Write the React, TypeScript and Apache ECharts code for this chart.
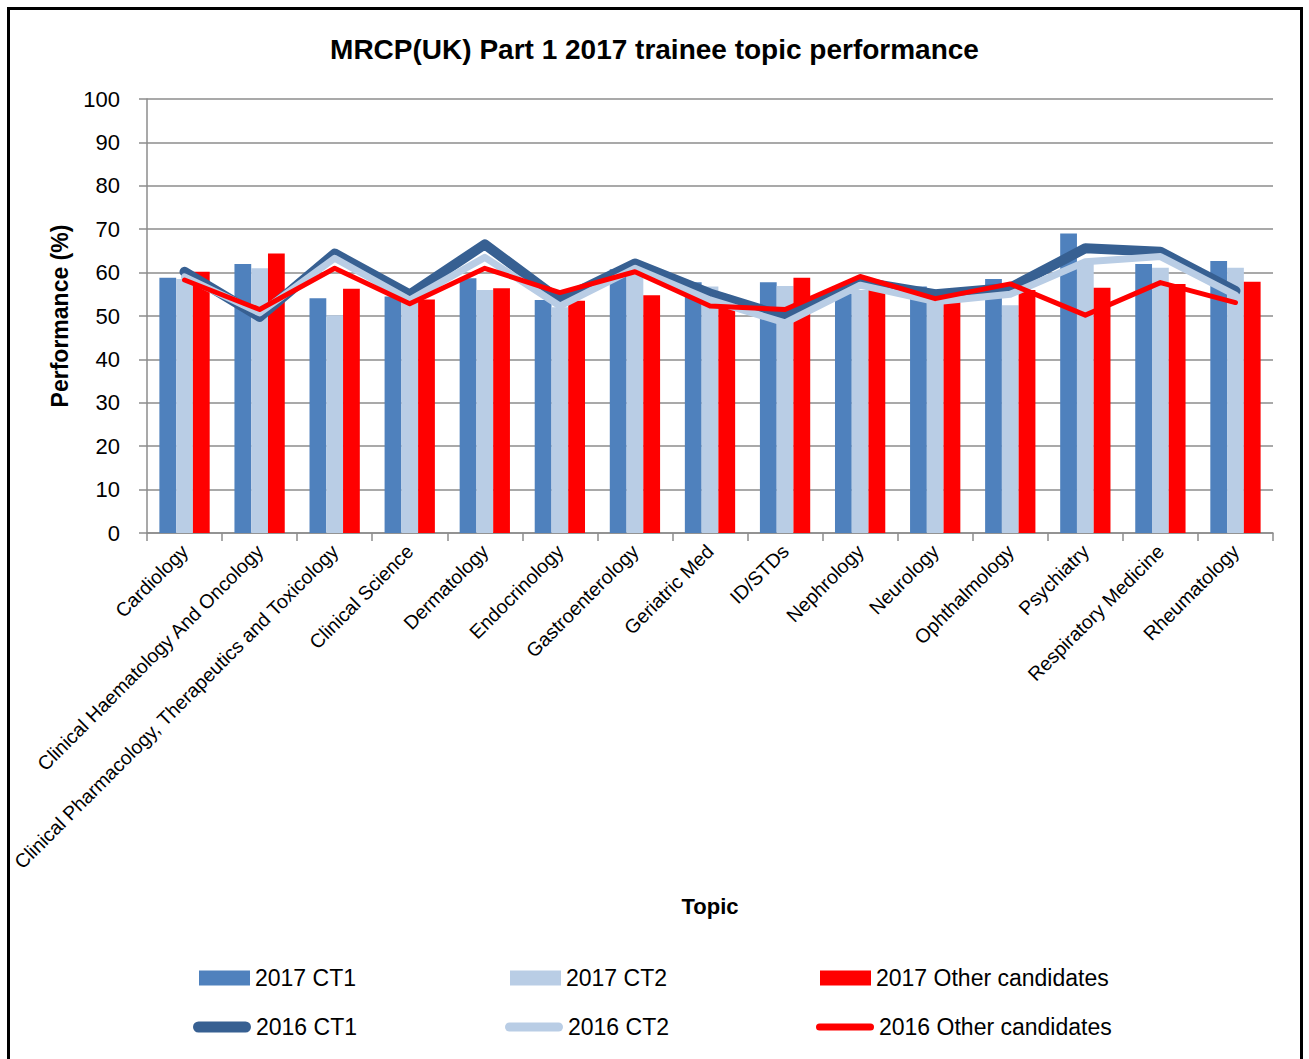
import React, { useEffect, useRef } from "react";
import * as echarts from "echarts";

const categories = [
  "Cardiology",
  "Clinical Haematology And Oncology",
  "Clinical Pharmacology, Therapeutics and Toxicology",
  "Clinical Science",
  "Dermatology",
  "Endocrinology",
  "Gastroenterology",
  "Geriatric Med",
  "ID/STDs",
  "Nephrology",
  "Neurology",
  "Ophthalmology",
  "Psychiatry",
  "Respiratory Medicine",
  "Rheumatology",
];

const ct1_2017 = [58.8, 62.0, 54.1, 54.5, 58.7, 53.7, 60.8, 57.8, 57.8, 55.2, 56.8, 58.5, 69.0, 62.0, 62.7];
const ct2_2017 = [58.5, 61.0, 50.2, 54.0, 56.0, 52.0, 60.5, 56.8, 56.9, 56.0, 53.0, 52.5, 62.0, 61.1, 61.1];
const other_2017 = [60.2, 64.4, 56.3, 53.8, 56.4, 53.5, 54.8, 52.1, 58.8, 56.0, 56.2, 56.0, 56.5, 57.4, 57.9];
const ct1_2016 = [60.2, 49.8, 64.4, 55.0, 66.5, 53.7, 62.1, 55.2, 49.8, 57.9, 55.0, 56.5, 65.6, 64.8, 55.8];
const ct2_2016 = [59.0, 50.7, 63.3, 53.7, 63.5, 52.3, 61.0, 53.7, 48.4, 57.1, 53.3, 55.0, 62.5, 63.7, 54.8];
const other_2016 = [58.3, 51.5, 61.0, 52.8, 61.0, 55.4, 60.2, 52.3, 51.5, 59.1, 54.0, 57.4, 50.2, 57.7, 53.1];

const yTicks = { min: 0, max: 100, interval: 10 };

const FONT = "'Liberation Sans', Arial, sans-serif";
const C_CT1 = "#4F81BD";
const C_CT2 = "#B9CDE5";
const C_RED = "#FF0000";
const C_CT1_LINE = "#376092";
const GRID = "#8c8c8c";

const PILL_W = 58;
function pill(h: number) {
  const r = h / 2;
  return `path://M${r},0 L${PILL_W - r},0 A${r},${r} 0 0 1 ${PILL_W - r},${h} L${r},${h} A${r},${r} 0 0 1 ${r},0 Z`;
}

export default function App() {
  const ref = useRef<HTMLDivElement>(null);
  useEffect(() => {
    if (!ref.current) return;
    const chart = echarts.init(ref.current, null, { renderer: "svg" });
    const legendText = { fontSize: 23, color: "#000", fontFamily: FONT, lineHeight: 24 };
    const mkLegend = (name: string, left: number, top: number, icon: string, w: number, h: number) => ({
      show: true,
      data: [{ name, icon }],
      left,
      top,
      padding: 0,
      itemWidth: w,
      itemHeight: h,
      itemGap: 0,
      selectedMode: false,
      itemStyle: { borderWidth: 0 },
      textStyle: legendText,
    });
    chart.setOption({
      animation: false,
      backgroundColor: "#fff",
      title: {
        text: "MRCP(UK) Part 1 2017 trainee topic performance",
        left: "center",
        top: 30,
        textStyle: { fontSize: 28, fontWeight: "bold", color: "#000", fontFamily: FONT },
      },
      graphic: [
        {
          type: "rect",
          silent: true,
          shape: { x: 8.5, y: 8.5, width: 1293, height: 1100 },
          style: { fill: "none", stroke: "#000", lineWidth: 3 },
        },
      ],
      legend: [
        mkLegend("2017 CT1", 199, 966, "rect", 51, 15),
        mkLegend("2017 CT2", 510, 966, "rect", 51, 15),
        mkLegend("2017 Other candidates", 820, 966, "rect", 51, 15),
        mkLegend("2016 CT1", 193, 1015, pill(11), PILL_W, 11),
        mkLegend("2016 CT2", 505, 1015, pill(9), PILL_W, 9),
        mkLegend("2016 Other candidates", 816, 1015, pill(7), PILL_W, 7),
      ],
      grid: { left: 147, right: 36, top: 99, bottom: 526, containLabel: false },
      xAxis: {
        type: "category",
        data: categories,
        name: "Topic",
        nameLocation: "middle",
        nameGap: 362,
        nameTextStyle: { fontSize: 22, fontWeight: "bold", color: "#000", fontFamily: FONT },
        axisLine: { show: true, lineStyle: { color: GRID, width: 1.5 } },
        axisTick: { show: true, length: 8, interval: 0, lineStyle: { color: GRID, width: 1.5 } },
        axisLabel: {
          interval: 0,
          rotate: 45,
          margin: 15,
          fontSize: 19.5,
          color: "#000",
          fontFamily: FONT,
        },
      },
      yAxis: {
        type: "value",
        min: yTicks.min,
        max: yTicks.max,
        interval: yTicks.interval,
        name: "Performance (%)",
        nameLocation: "middle",
        nameRotate: 90,
        nameGap: 76,
        nameTextStyle: { fontSize: 23, fontWeight: "bold", color: "#000", fontFamily: FONT },
        axisLine: { show: true, lineStyle: { color: GRID, width: 1.5 } },
        axisTick: { show: true, length: 8, lineStyle: { color: GRID, width: 1.5 } },
        axisLabel: { margin: 27, fontSize: 22, color: "#000", fontFamily: FONT },
        splitLine: { show: true, lineStyle: { color: GRID, width: 1.5 } },
      },
      series: [
        {
          name: "2017 CT1",
          type: "bar",
          data: ct1_2017,
          barGap: "0%",
          barCategoryGap: "33%",
          itemStyle: { color: C_CT1 },
        },
        {
          name: "2017 CT2",
          type: "bar",
          data: ct2_2017,
          barGap: "0%",
          barCategoryGap: "33%",
          itemStyle: { color: C_CT2 },
        },
        {
          name: "2017 Other candidates",
          type: "bar",
          data: other_2017,
          barGap: "0%",
          barCategoryGap: "33%",
          itemStyle: { color: C_RED },
        },
        {
          name: "2016 CT1",
          type: "line",
          data: ct1_2016,
          symbol: "none",
          itemStyle: { color: C_CT1_LINE },
          lineStyle: { color: C_CT1_LINE, width: 10, cap: "round", join: "round" },
        },
        {
          name: "2016 CT2",
          type: "line",
          data: ct2_2016,
          symbol: "none",
          itemStyle: { color: C_CT2 },
          lineStyle: { color: C_CT2, width: 7, cap: "round", join: "round" },
        },
        {
          name: "2016 Other candidates",
          type: "line",
          data: other_2016,
          symbol: "none",
          itemStyle: { color: C_RED },
          lineStyle: { color: C_RED, width: 5, cap: "round", join: "round" },
        },
      ],
    });
    return () => chart.dispose();
  }, []);
  return (
    <div
      ref={ref}
      style={{ position: "absolute", left: 0, top: 0, width: 1309, height: 1059 }}
    />
  );
}
